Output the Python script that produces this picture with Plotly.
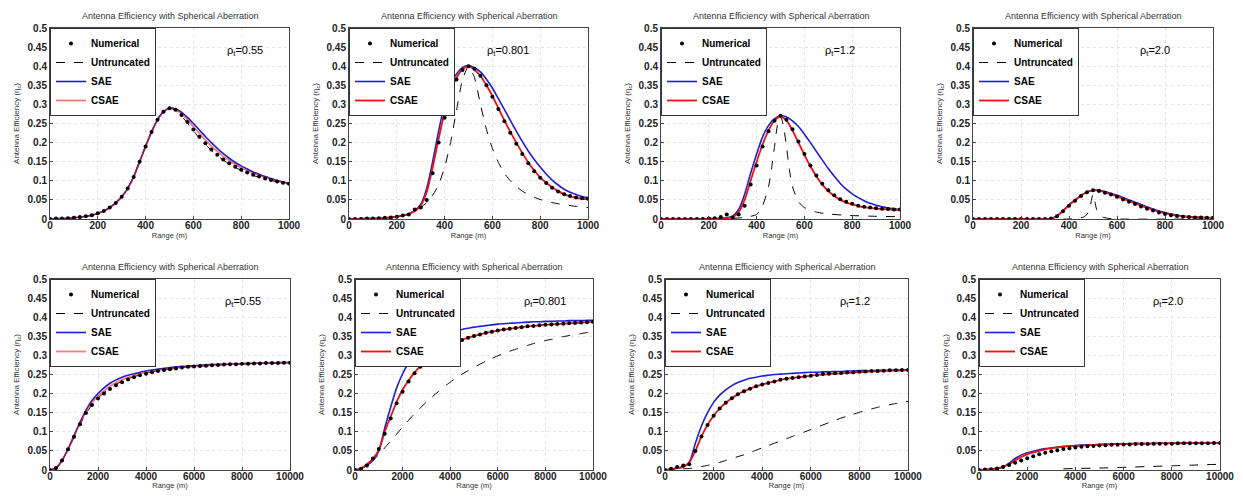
import plotly.graph_objects as go

# ---------------- data ----------------
R_TOP = list(range(0, 1001, 25))      # range samples, top row (m)
R_BOT = list(range(0, 10001, 250))    # range samples, bottom row (m)

RHO_LABELS = ["0.55", "0.801", "1.2", "2.0", "0.55", "0.801", "1.2", "2.0"]

# Panel 1 (rho=0.55, 0-1000 m)
NUM_1 = [0,0.001,0.001,0.002,0.003,0.005,0.007,0.010,0.015,0.021,0.030,0.042,0.058,0.080,0.110,0.150,0.190,0.228,0.260,0.281,0.290,
         0.286,0.272,0.254,0.234,0.215,0.198,0.182,0.168,0.156,0.146,0.137,0.129,0.122,0.116,0.111,0.106,0.102,0.098,0.095,0.092]
UNT_1 = [0,0.001,0.001,0.002,0.003,0.005,0.007,0.010,0.015,0.021,0.030,0.042,0.058,0.081,0.112,0.152,0.192,0.230,0.262,0.282,0.290,
         0.285,0.270,0.251,0.231,0.212,0.195,0.180,0.166,0.154,0.144,0.135,0.127,0.120,0.114,0.109,0.105,0.101,0.097,0.094,0.091]
SAE_1 = [0,0.001,0.001,0.002,0.003,0.005,0.007,0.010,0.015,0.021,0.030,0.042,0.058,0.080,0.110,0.150,0.190,0.228,0.260,0.281,0.290,
         0.288,0.280,0.266,0.250,0.233,0.216,0.200,0.185,0.171,0.159,0.148,0.139,0.131,0.123,0.117,0.111,0.106,0.101,0.097,0.094]
CSAE_1 = [0,0.001,0.001,0.002,0.003,0.005,0.007,0.010,0.015,0.021,0.030,0.042,0.058,0.080,0.110,0.150,0.190,0.228,0.260,0.281,0.290,
          0.287,0.276,0.260,0.242,0.224,0.207,0.191,0.177,0.164,0.153,0.143,0.134,0.127,0.120,0.114,0.109,0.104,0.100,0.096,0.093]

# Panel 2 (rho=0.801)
NUM_2 = [0,0,0,0.001,0.001,0.002,0.003,0.004,0.006,0.009,0.012,0.025,0.030,0.050,0.120,0.200,0.265,0.330,0.365,0.390,0.400,
         0.393,0.375,0.350,0.320,0.288,0.256,0.226,0.197,0.170,0.146,0.125,0.108,0.094,0.082,0.072,0.065,0.060,0.056,0.054,0.053]
UNT_2 = [0,0,0.001,0.001,0.002,0.002,0.003,0.004,0.006,0.009,0.013,0.020,0.030,0.043,0.062,0.090,0.135,0.200,0.285,0.365,0.400,
         0.370,0.300,0.235,0.185,0.148,0.120,0.100,0.085,0.073,0.064,0.057,0.051,0.047,0.043,0.040,0.037,0.035,0.033,0.031,0.030]
SAE_2 = [0,0,0.001,0.001,0.001,0.002,0.003,0.004,0.006,0.009,0.014,0.022,0.038,0.080,0.150,0.230,0.300,0.350,0.380,0.397,0.402,
         0.396,0.385,0.366,0.343,0.315,0.287,0.258,0.230,0.203,0.178,0.156,0.136,0.118,0.102,0.089,0.078,0.070,0.064,0.059,0.056]
CSAE_2 = [0,0,0.001,0.001,0.001,0.002,0.003,0.004,0.006,0.009,0.013,0.020,0.035,0.070,0.135,0.210,0.280,0.335,0.370,0.392,0.400,
          0.390,0.375,0.350,0.322,0.290,0.258,0.228,0.200,0.173,0.148,0.127,0.109,0.095,0.083,0.073,0.065,0.059,0.055,0.053,0.052]

# Panel 3 (rho=1.2)
NUM_3 = [0,0,0,0,0,0,0,0,0.001,0.002,0.005,0.012,0.003,0.012,0.035,0.090,0.140,0.190,0.230,0.257,0.270,
         0.260,0.235,0.203,0.170,0.140,0.114,0.092,0.075,0.062,0.052,0.045,0.040,0.035,0.032,0.030,0.028,0.027,0.026,0.025,0.025]
UNT_X_3 = [0,100,200,300,350,400,425,450,462,475,487,500,512,525,537,550,575,600,650,700,800,900,1000]
UNT_3 = [0,0.001,0.001,0.002,0.004,0.012,0.035,0.085,0.13,0.19,0.245,0.27,0.245,0.19,0.13,0.085,0.045,0.03,0.018,0.013,0.009,0.007,0.006]
SAE_3 = [0,0,0,0,0,0,0,0,0.001,0.001,0.002,0.003,0.008,0.025,0.065,0.120,0.170,0.215,0.245,0.263,0.270,
         0.267,0.257,0.242,0.222,0.200,0.177,0.154,0.132,0.112,0.093,0.078,0.066,0.056,0.048,0.041,0.036,0.032,0.029,0.027,0.025]
CSAE_3 = [0,0,0,0,0,0,0,0,0.001,0.001,0.001,0.002,0.005,0.018,0.050,0.100,0.150,0.195,0.232,0.258,0.268,
          0.258,0.232,0.200,0.168,0.138,0.112,0.090,0.073,0.060,0.050,0.043,0.038,0.034,0.031,0.029,0.027,0.026,0.025,0.024,0.023]

# Panel 4 (rho=2.0)
NUM_4 = [0,0,0,0,0,0,0,0,0,0,0,0,0,0.001,0.007,0.020,0.035,0.048,0.060,0.070,0.075,
         0.073,0.069,0.064,0.058,0.051,0.045,0.039,0.033,0.027,0.022,0.017,0.013,0.010,0.008,0.006,0.005,0.004,0.004,0.003,0.003]
UNT_X_4 = [0,400,440,460,475,485,492,500,508,515,525,540,560,600,1000]
UNT_4 = [0,0,0.002,0.005,0.012,0.025,0.045,0.065,0.045,0.025,0.012,0.005,0.002,0,0]
SAE_4 = [0,0,0,0,0,0,0,0,0,0,0,0,0,0.001,0.008,0.022,0.037,0.050,0.062,0.071,0.076,
         0.075,0.072,0.067,0.062,0.056,0.050,0.044,0.038,0.032,0.026,0.021,0.017,0.013,0.010,0.008,0.006,0.005,0.004,0.004,0.003]
CSAE_4 = [0,0,0,0,0,0,0,0,0,0,0,0,0,0.001,0.007,0.021,0.036,0.049,0.061,0.070,0.075,
          0.074,0.070,0.065,0.059,0.053,0.047,0.041,0.035,0.029,0.024,0.019,0.015,0.011,0.009,0.007,0.005,0.004,0.004,0.003,0.003]

# Panel 5 (rho=0.55, 0-10000 m)
NUM_5 = [0,0.005,0.025,0.054,0.087,0.120,0.149,0.170,0.187,0.200,0.212,0.222,0.230,0.237,0.243,0.248,0.252,0.256,0.259,0.262,0.264,
         0.266,0.268,0.270,0.271,0.272,0.273,0.274,0.275,0.276,0.277,0.277,0.278,0.278,0.279,0.279,0.280,0.280,0.280,0.281,0.281]
UNT_5 = [0,0.005,0.024,0.053,0.086,0.119,0.148,0.170,0.188,0.202,0.214,0.224,0.232,0.239,0.244,0.249,0.253,0.257,0.260,0.262,0.264,
         0.266,0.268,0.270,0.271,0.272,0.273,0.274,0.275,0.276,0.277,0.277,0.278,0.278,0.279,0.279,0.280,0.280,0.280,0.281,0.281]
SAE_5 = [0,0.005,0.025,0.055,0.090,0.125,0.157,0.182,0.200,0.215,0.227,0.236,0.243,0.248,0.252,0.256,0.259,0.262,0.264,0.266,0.268,
         0.270,0.271,0.272,0.273,0.274,0.275,0.276,0.276,0.277,0.277,0.278,0.278,0.279,0.279,0.280,0.280,0.280,0.281,0.281,0.281]
CSAE_5 = [0,0.005,0.025,0.054,0.088,0.122,0.153,0.176,0.193,0.207,0.219,0.229,0.236,0.242,0.247,0.252,0.255,0.258,0.261,0.263,0.265,
          0.267,0.269,0.270,0.271,0.272,0.273,0.274,0.275,0.276,0.277,0.277,0.278,0.278,0.279,0.279,0.280,0.280,0.280,0.281,0.281]

# Panel 6 (rho=0.801)
NUM_6 = [0,0.003,0.012,0.030,0.055,0.095,0.135,0.175,0.205,0.232,0.253,0.270,0.286,0.298,0.309,0.319,0.327,0.334,0.340,0.346,0.351,
         0.355,0.359,0.362,0.365,0.368,0.370,0.372,0.374,0.376,0.377,0.379,0.380,0.381,0.382,0.383,0.384,0.385,0.386,0.387,0.388]
UNT_6 = [0,0.004,0.012,0.025,0.040,0.058,0.076,0.094,0.112,0.130,0.147,0.163,0.178,0.192,0.205,0.218,0.230,0.241,0.251,0.260,0.269,
         0.277,0.285,0.292,0.299,0.305,0.311,0.316,0.321,0.326,0.331,0.335,0.339,0.342,0.346,0.349,0.352,0.355,0.357,0.360,0.362]
SAE_6 = [0,0.004,0.012,0.025,0.050,0.110,0.165,0.215,0.252,0.280,0.300,0.317,0.330,0.340,0.348,0.355,0.360,0.364,0.368,0.371,0.374,
         0.376,0.378,0.380,0.382,0.383,0.384,0.385,0.386,0.387,0.388,0.388,0.389,0.389,0.390,0.390,0.391,0.391,0.391,0.392,0.392]
CSAE_6 = [0,0.004,0.015,0.030,0.052,0.100,0.140,0.178,0.210,0.234,0.255,0.272,0.287,0.299,0.310,0.320,0.328,0.335,0.341,0.346,0.351,
          0.355,0.359,0.362,0.365,0.368,0.370,0.372,0.374,0.376,0.377,0.379,0.380,0.381,0.382,0.383,0.384,0.385,0.386,0.387,0.388]

# Panel 7 (rho=1.2)
NUM_7 = [0,0.003,0.008,0.012,0.015,0.050,0.088,0.118,0.142,0.161,0.176,0.188,0.198,0.206,0.213,0.219,0.224,0.228,0.232,0.236,0.239,
         0.241,0.243,0.245,0.247,0.249,0.251,0.252,0.253,0.254,0.255,0.256,0.257,0.258,0.259,0.259,0.260,0.261,0.261,0.262,0.262]
UNT_7 = [0,0.001,0.002,0.003,0.004,0.006,0.009,0.012,0.016,0.020,0.025,0.030,0.035,0.040,0.046,0.052,0.058,0.064,0.070,0.076,0.082,
         0.088,0.094,0.100,0.106,0.112,0.118,0.124,0.130,0.136,0.141,0.146,0.151,0.156,0.160,0.164,0.168,0.171,0.174,0.177,0.180]
SAE_7 = [0,0.002,0.005,0.008,0.020,0.070,0.115,0.150,0.177,0.196,0.210,0.221,0.229,0.235,0.240,0.243,0.246,0.248,0.250,0.251,0.252,
         0.253,0.254,0.255,0.256,0.256,0.257,0.257,0.258,0.258,0.259,0.259,0.260,0.260,0.260,0.261,0.261,0.261,0.262,0.262,0.262]
CSAE_7 = [0,0.002,0.005,0.008,0.020,0.050,0.088,0.118,0.142,0.161,0.176,0.188,0.198,0.206,0.213,0.219,0.224,0.228,0.232,0.236,0.239,
          0.241,0.243,0.245,0.247,0.249,0.250,0.251,0.252,0.253,0.254,0.255,0.256,0.257,0.258,0.258,0.259,0.260,0.260,0.261,0.261]

# Panel 8 (rho=2.0)
NUM_8 = [0,0.001,0.002,0.004,0.008,0.013,0.019,0.025,0.031,0.036,0.041,0.045,0.049,0.052,0.055,0.057,0.059,0.061,0.062,0.063,0.064,
         0.065,0.066,0.066,0.067,0.067,0.068,0.068,0.068,0.069,0.069,0.069,0.069,0.070,0.070,0.070,0.070,0.070,0.070,0.071,0.071]
UNT_X_8 = [3500,4000,5000,6000,7000,8000,9000,10000]
UNT_8 = [0.003,0.004,0.005,0.007,0.009,0.011,0.013,0.015]
SAE_8 = [0,0.001,0.002,0.004,0.008,0.018,0.030,0.039,0.045,0.049,0.053,0.056,0.058,0.060,0.062,0.063,0.064,0.065,0.066,0.066,0.067,
         0.067,0.068,0.068,0.068,0.069,0.069,0.069,0.069,0.070,0.070,0.070,0.070,0.070,0.071,0.071,0.071,0.071,0.071,0.071,0.071]
CSAE_8 = [0,0.001,0.002,0.004,0.008,0.015,0.025,0.034,0.041,0.046,0.050,0.054,0.057,0.059,0.061,0.062,0.063,0.064,0.065,0.066,0.066,
          0.067,0.067,0.068,0.068,0.068,0.069,0.069,0.069,0.069,0.070,0.070,0.070,0.070,0.070,0.071,0.071,0.071,0.071,0.071,0.071]

PANELS = [
    (R_TOP, NUM_1, R_TOP, UNT_1, SAE_1, CSAE_1),
    (R_TOP, NUM_2, R_TOP, UNT_2, SAE_2, CSAE_2),
    (R_TOP, NUM_3, UNT_X_3, UNT_3, SAE_3, CSAE_3),
    (R_TOP, NUM_4, UNT_X_4, UNT_4, SAE_4, CSAE_4),
    (R_BOT, NUM_5, R_BOT, UNT_5, SAE_5, CSAE_5),
    (R_BOT, NUM_6, R_BOT, UNT_6, SAE_6, CSAE_6),
    (R_BOT, NUM_7, R_BOT, UNT_7, SAE_7, CSAE_7),
    (R_BOT, NUM_8, UNT_X_8, UNT_8, SAE_8, CSAE_8),
]

# ---------------- layout geometry (page pixels) ----------------
OFF = 8                      # default body margin of the html page
W, H = 1243 - 2 * OFF, 498 - 2 * OFF
XPIX = [(50, 289), (349, 588), (661, 900), (973, 1213),
        (50, 290), (355, 593), (665, 908), (979, 1220)]
YPIX = [(28, 219), (279, 470)]
RHO_XPOS = [815, 665, 750, 758, 8050, 7980, 7820, 7840]

FONT = "Liberation Sans, Arial, sans-serif"
BLUE = "#1f1fd0"
RED = "#ee1111"

fig = go.Figure()
layout = dict(width=W, height=H, margin=dict(l=0, r=0, t=0, b=0),
              paper_bgcolor="white", plot_bgcolor="white",
              showlegend=True, template=None, annotations=[])

for i, (xs, num, ux, unt, sae, csae) in enumerate(PANELS):
    k = i + 1
    row = 0 if i < 4 else 1
    xa = "x" if k == 1 else f"x{k}"
    ya = "y" if k == 1 else f"y{k}"
    lg = "legend" if k == 1 else f"legend{k}"
    x0, x1 = XPIX[i]
    yt, yb = YPIX[row]
    xd = [(x0 - OFF) / W, (x1 - OFF) / W]
    yd = [1 - (yb - OFF) / H, 1 - (yt - OFF) / H]
    top = row == 0
    csae_color = "rgba(238,17,17,0.55)" if RHO_LABELS[i] == "0.55" else RED

    fig.add_trace(go.Scatter(x=ux, y=unt, xaxis=xa, yaxis=ya, mode="lines", name="Untruncated",
                             line=dict(color="black", width=1, dash="dash", shape="spline", smoothing=0.6),
                             legend=lg, legendrank=2))
    fig.add_trace(go.Scatter(x=xs, y=sae, xaxis=xa, yaxis=ya, mode="lines", name="SAE",
                             line=dict(color=BLUE, width=1.6, shape="spline", smoothing=0.6),
                             legend=lg, legendrank=3))
    fig.add_trace(go.Scatter(x=xs, y=csae, xaxis=xa, yaxis=ya, mode="lines", name="CSAE",
                             line=dict(color=csae_color, width=1.8, shape="spline", smoothing=0.6),
                             legend=lg, legendrank=4))
    fig.add_trace(go.Scatter(x=xs, y=num, xaxis=xa, yaxis=ya, mode="markers", name="Numerical",
                             marker=dict(color="black", size=4),
                             legend=lg, legendrank=1))

    axkey_x = "xaxis" if k == 1 else f"xaxis{k}"
    axkey_y = "yaxis" if k == 1 else f"yaxis{k}"
    common = dict(showline=True, linecolor="#444", linewidth=1, mirror=True,
                  ticks="inside", ticklen=3, tickcolor="#444",
                  showgrid=True, gridcolor="#e4e4e4", griddash="dot", gridwidth=1,
                  zeroline=False, automargin=False,
                  tickfont=dict(family=FONT, size=10, color="#222", weight="bold"))
    layout[axkey_x] = dict(common, domain=xd, anchor=ya,
                           range=[0, 1000] if top else [0, 10000],
                           dtick=200 if top else 2000, tick0=0, tickformat="d",
                           ticklabelstandoff=-3,
                           title=dict(text="Range (m)", font=dict(family=FONT, size=7.5, color="#333"), standoff=0))
    layout[axkey_y] = dict(common, domain=yd, anchor=xa, range=[0, 0.5], dtick=0.05, tick0=0,
                           title=dict(text="Antenna Efficiency (η<sub>c</sub>)",
                                      font=dict(family=FONT, size=8, color="#333"), standoff=6))
    layout[lg] = dict(x=xd[0], y=yd[1], xanchor="left", yanchor="top", xref="paper", yref="paper",
                      bgcolor="white", bordercolor="#333", borderwidth=1,
                      font=dict(family=FONT, size=10, color="black", weight="bold"),
                      itemwidth=30, tracegroupgap=0)
    layout["annotations"].append(dict(
        text="Antenna Efficiency with Spherical Aberration", xref="paper", yref="paper",
        x=(xd[0] + xd[1]) / 2, y=yd[1] + 12 / H, xanchor="center", yanchor="middle",
        showarrow=False, font=dict(family=FONT, size=9, color="#333")))
    layout["annotations"].append(dict(
        text=f"ρ<sub>t</sub>={RHO_LABELS[i]}", xref=xa, yref=ya, x=RHO_XPOS[i], y=0.44,
        xanchor="center", yanchor="middle", showarrow=False,
        font=dict(family=FONT, size=11, color="black")))

fig.update_layout(**layout)
fig.write_html("out.html")
